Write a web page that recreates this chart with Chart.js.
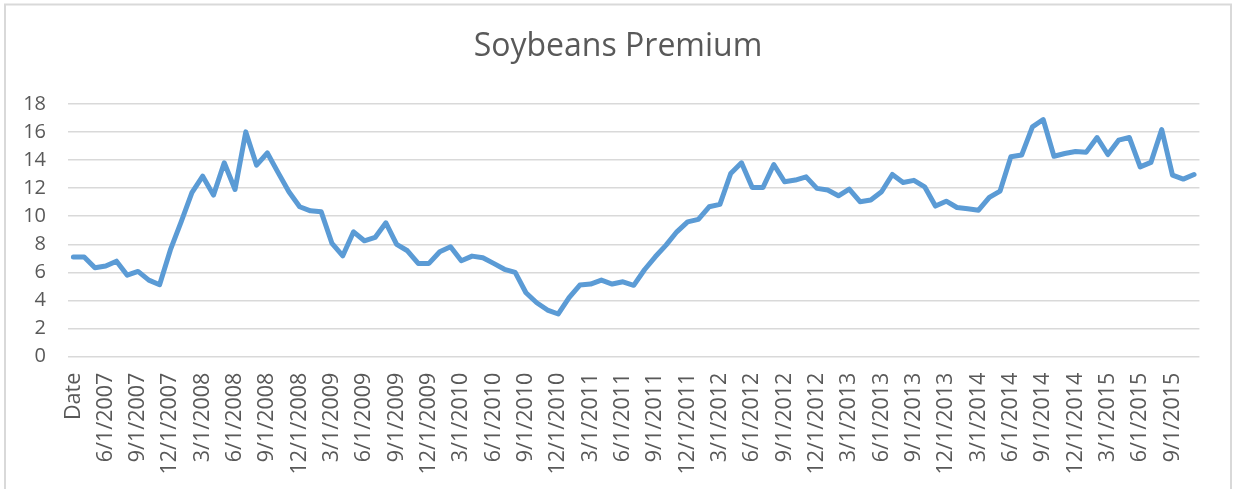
<!DOCTYPE html>
<html>
<head>
<meta charset="utf-8">
<title>Soybeans Premium</title>
<script src="https://cdn.jsdelivr.net/npm/chart.js@4"></script>
<style>
  html, body { margin: 0; padding: 0; background: #ffffff; }
  #wrap { position: relative; width: 1236px; height: 489px; }
</style>
</head>
<body>
<div id="wrap"><canvas id="soyChart"></canvas></div>
<script>
// Category labels (first row of the sheet is the "Date" header)
const dateLabels = [
  "Date",
  "4/1/2007", "5/1/2007", "6/1/2007", "7/1/2007", "8/1/2007", "9/1/2007", "10/1/2007", "11/1/2007", "12/1/2007",
  "1/1/2008", "2/1/2008", "3/1/2008", "4/1/2008", "5/1/2008", "6/1/2008", "7/1/2008", "8/1/2008", "9/1/2008", "10/1/2008", "11/1/2008", "12/1/2008",
  "1/1/2009", "2/1/2009", "3/1/2009", "4/1/2009", "5/1/2009", "6/1/2009", "7/1/2009", "8/1/2009", "9/1/2009", "10/1/2009", "11/1/2009", "12/1/2009",
  "1/1/2010", "2/1/2010", "3/1/2010", "4/1/2010", "5/1/2010", "6/1/2010", "7/1/2010", "8/1/2010", "9/1/2010", "10/1/2010", "11/1/2010", "12/1/2010",
  "1/1/2011", "2/1/2011", "3/1/2011", "4/1/2011", "5/1/2011", "6/1/2011", "7/1/2011", "8/1/2011", "9/1/2011", "10/1/2011", "11/1/2011", "12/1/2011",
  "1/1/2012", "2/1/2012", "3/1/2012", "4/1/2012", "5/1/2012", "6/1/2012", "7/1/2012", "8/1/2012", "9/1/2012", "10/1/2012", "11/1/2012", "12/1/2012",
  "1/1/2013", "2/1/2013", "3/1/2013", "4/1/2013", "5/1/2013", "6/1/2013", "7/1/2013", "8/1/2013", "9/1/2013", "10/1/2013", "11/1/2013", "12/1/2013",
  "1/1/2014", "2/1/2014", "3/1/2014", "4/1/2014", "5/1/2014", "6/1/2014", "7/1/2014", "8/1/2014", "9/1/2014", "10/1/2014", "11/1/2014", "12/1/2014",
  "1/1/2015", "2/1/2015", "3/1/2015", "4/1/2015", "5/1/2015", "6/1/2015", "7/1/2015", "8/1/2015", "9/1/2015", "10/1/2015", "11/1/2015"
];

// Soybeans premium
const premium = [
  7.1,
  7.1, 6.33, 6.45, 6.8, 5.8, 6.07, 5.45, 5.12, 7.6,
  9.6, 11.67, 12.85, 11.5, 13.8, 11.9, 16.0, 13.63, 14.5, 13.1, 11.74, 10.67,
  10.38, 10.31, 8.06, 7.18, 8.89, 8.25, 8.49, 9.53, 8.0, 7.54, 6.64, 6.64,
  7.47, 7.82, 6.83, 7.16, 7.04, 6.64, 6.22, 6.0, 4.55, 3.84, 3.32, 3.04,
  4.2, 5.1, 5.17, 5.45, 5.17, 5.33, 5.08, 6.19, 7.11, 7.94, 8.89, 9.6,
  9.77, 10.67, 10.84, 13.04, 13.8, 12.05, 12.05, 13.68, 12.45, 12.57, 12.8, 11.98,
  11.86, 11.45, 11.93, 11.03, 11.15, 11.74, 12.97, 12.4, 12.55, 12.09, 10.72, 11.07,
  10.62, 10.53, 10.43, 11.34, 11.79, 14.23, 14.35, 16.36, 16.88, 14.27, 14.46, 14.6,
  14.56, 15.6, 14.39, 15.41, 15.6, 13.51, 13.83, 16.17, 12.92, 12.64, 12.97
];

// y axis ticks
const yMin = 0;
const yMax = 18;
const yStep = 2;

const textGrey = "#595959";
const gridGrey = "#d9d9d9";

// white background and the light frame round the chart
const frame = {
  id: "frame",
  beforeDraw(chart) {
    const c = chart.ctx;
    c.save();
    c.fillStyle = "#ffffff";
    c.fillRect(0, 0, chart.width, chart.height);
    c.strokeStyle = gridGrey;
    c.lineWidth = 2;
    c.beginPath();
    c.moveTo(5, chart.height);
    c.lineTo(5, 4.5);
    c.lineTo(1231, 4.5);
    c.lineTo(1231, chart.height);
    c.stroke();
    c.restore();
  }
};

new Chart(document.getElementById("soyChart"), {
  type: "line",
  data: {
    labels: dateLabels,
    datasets: [{
      label: "Soybeans Premium",
      data: premium,
      borderColor: "#5b9bd5",
      backgroundColor: "#5b9bd5",
      borderWidth: 5,
      pointRadius: 0,
      tension: 0,
      borderJoinStyle: "round",
      borderCapStyle: "round",
      fill: false
    }]
  },
  options: {
    responsive: true,
    maintainAspectRatio: false,
    animation: false,
    layout: { padding: 0 },
    plugins: {
      legend: { display: false },
      tooltip: { enabled: false },
      title: {
        display: true,
        text: "Soybeans Premium",
        color: textGrey,
        font: { family: "Open Sans", size: 32, weight: "normal", lineHeight: 1.2 },
        padding: { top: 28, bottom: 37.4 }
      }
    },
    scales: {
      x: {
        offset: true,
        grid: { display: false, drawTicks: false },
        border: { display: false },
        ticks: {
          autoSkip: false,
          minRotation: 90,
          maxRotation: 90,
          padding: 16,
          color: textGrey,
          font: { family: "Open Sans", size: 21.5 },
          callback: function (value, index) {
            return index % 3 === 0 ? dateLabels[index] : "";
          }
        },
        afterFit(scale) { scale.height = 132.3; }
      },
      y: {
        min: yMin,
        max: yMax,
        grid: { color: gridGrey, lineWidth: 1.5, drawTicks: false },
        border: { display: false },
        ticks: {
          stepSize: yStep,
          padding: 22,
          color: textGrey,
          font: { family: "Open Sans", size: 20 }
        },
        afterFit(scale) { scale.width = 68; }
      },
      // empty right-hand margin so the title stays centred on the whole chart
      yRight: {
        position: "right",
        grid: { display: false, drawTicks: false },
        border: { display: false },
        ticks: { display: false },
        afterFit(scale) { scale.width = 32.5; }
      }
    }
  },
  plugins: [frame]
});
</script>
</body>
</html>
